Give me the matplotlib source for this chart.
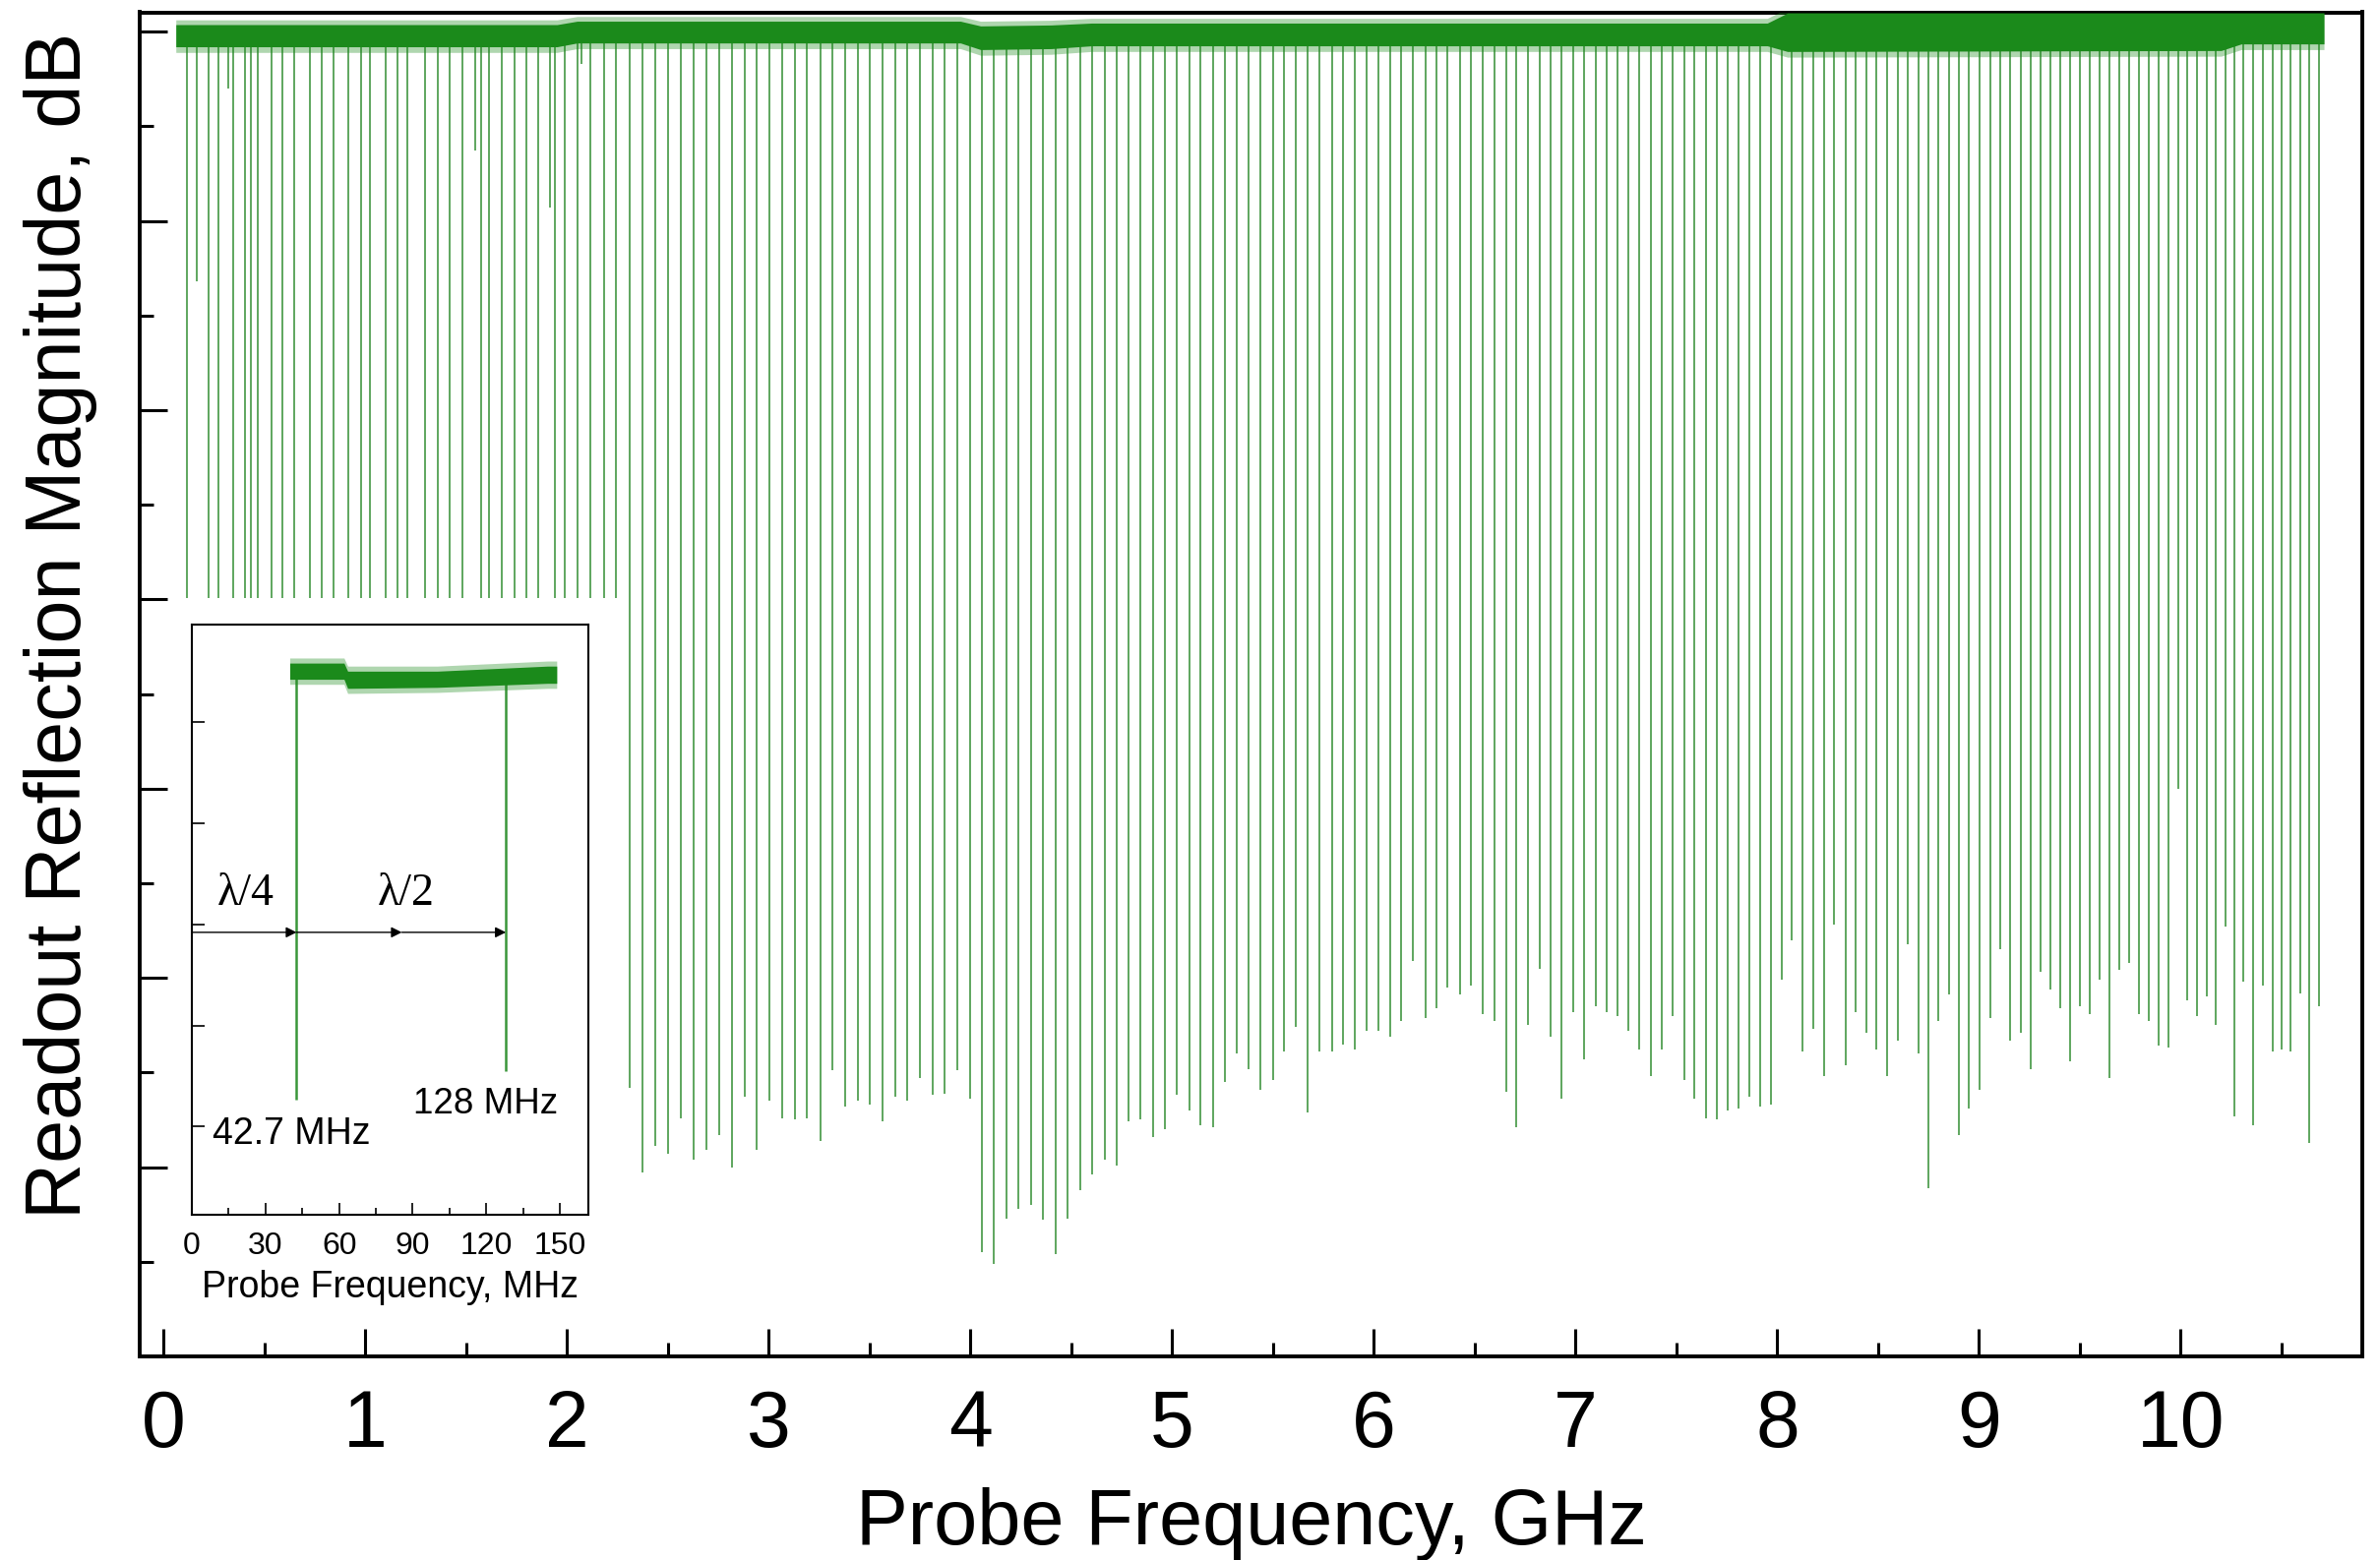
import numpy as np
import matplotlib
matplotlib.use("Agg")
import matplotlib.pyplot as plt
from matplotlib.ticker import MultipleLocator, FixedLocator
from matplotlib.patches import Rectangle

plt.rcParams['font.family'] = ['Liberation Sans', 'DejaVu Sans']

# resonance dips: frequency (GHz) and depth of the dip (dB)
dip_freq = [
    0.117, 0.166, 0.221, 0.272, 0.320, 0.343, 0.402, 0.434, 0.467, 0.535,
    0.589, 0.645, 0.725, 0.784, 0.841, 0.917, 0.979, 1.020, 1.101, 1.158,
    1.207, 1.296, 1.361, 1.418, 1.483, 1.545, 1.575, 1.613, 1.678, 1.738,
    1.800, 1.857, 1.917, 1.940, 1.987, 2.052, 2.070, 2.117, 2.182, 2.242,
    2.312, 2.374, 2.437, 2.501, 2.564, 2.628, 2.689, 2.753, 2.816, 2.880,
    2.941, 3.003, 3.068, 3.128, 3.190, 3.255, 3.316, 3.379, 3.442, 3.502,
    3.564, 3.626, 3.688, 3.750, 3.811, 3.873, 3.935, 3.997, 4.057, 4.117,
    4.179, 4.239, 4.299, 4.361, 4.423, 4.483, 4.543, 4.605, 4.665, 4.727,
    4.784, 4.844, 4.906, 4.962, 5.023, 5.084, 5.141, 5.202, 5.260, 5.320,
    5.379, 5.437, 5.499, 5.556, 5.613, 5.673, 5.730, 5.792, 5.849, 5.906,
    5.962, 6.020, 6.081, 6.133, 6.193, 6.255, 6.309, 6.366, 6.426, 6.483,
    6.540, 6.597, 6.654, 6.706, 6.764, 6.820, 6.876, 6.930, 6.987, 7.044,
    7.098, 7.155, 7.207, 7.263, 7.317, 7.372, 7.428, 7.483, 7.537, 7.590,
    7.645, 7.699, 7.753, 7.808, 7.860, 7.914, 7.966, 8.020, 8.073, 8.125,
    8.179, 8.231, 8.283, 8.337, 8.390, 8.442, 8.491, 8.545, 8.597, 8.645,
    8.698, 8.748, 8.800, 8.849, 8.901, 8.951, 9.003, 9.055, 9.104, 9.154,
    9.206, 9.255, 9.304, 9.353, 9.402, 9.450, 9.499, 9.548, 9.597, 9.645,
    9.694, 9.743, 9.792, 9.840, 9.889, 9.938, 9.987, 10.032, 10.081, 10.130,
    10.174, 10.223, 10.268, 10.312, 10.361, 10.406, 10.454, 10.499, 10.545, 10.591,
    10.637, 10.683,
]
dip_depth = [
    -58.0, -13.2, -58.0, -58.0, -3.0, -58.0, -58.0, -58.0, -58.0, -58.0,
    -58.0, -58.0, -58.0, -58.0, -58.0, -58.0, -58.0, -58.0, -58.0, -58.0,
    -58.0, -58.0, -58.0, -58.0, -58.0, -6.3, -58.0, -58.0, -58.0, -58.0,
    -58.0, -58.0, -9.3, -58.0, -58.0, -58.0, -1.7, -58.0, -58.0, -58.0,
    -55.8, -60.3, -58.9, -59.3, -57.4, -59.6, -59.1, -58.3, -60.0, -56.3,
    -59.1, -56.5, -57.4, -57.5, -57.4, -58.6, -54.9, -56.8, -56.5, -56.7,
    -57.6, -56.3, -56.5, -55.3, -56.2, -56.1, -54.9, -56.4, -64.5, -65.1,
    -62.7, -62.2, -62.0, -62.8, -64.6, -62.7, -61.2, -60.4, -59.6, -59.9,
    -57.6, -57.5, -58.4, -58.0, -56.2, -57.0, -57.8, -57.9, -55.5, -54.0,
    -54.8, -55.9, -55.4, -53.9, -52.6, -57.1, -53.9, -53.9, -53.5, -53.8,
    -52.8, -52.8, -53.1, -52.3, -49.1, -52.1, -51.6, -50.5, -50.9, -50.4,
    -51.9, -52.3, -56.0, -57.9, -52.5, -49.5, -53.1, -56.4, -51.8, -54.3,
    -51.5, -51.8, -52.0, -52.8, -53.8, -55.2, -53.8, -52.0, -55.4, -56.4,
    -57.4, -57.5, -57.0, -56.9, -56.3, -56.8, -56.7, -50.1, -48.0, -53.9,
    -52.7, -55.2, -47.2, -54.6, -51.8, -52.9, -53.8, -55.2, -53.3, -48.2,
    -54.0, -61.1, -52.3, -50.9, -58.3, -56.9, -55.9, -52.1, -48.5, -53.3,
    -52.9, -54.8, -49.7, -50.6, -51.6, -54.4, -51.5, -51.9, -50.1, -55.3,
    -49.6, -49.2, -51.9, -52.3, -53.6, -53.7, -40.0, -51.2, -52.0, -51.0,
    -52.5, -47.3, -57.3, -50.2, -57.8, -50.4, -53.9, -53.8, -53.9, -50.8,
    -58.7, -51.5,
]

# off-resonance level (noisy band): frequency, upper and lower edge in dB
band_freq = [0.06, 1.95, 2.05, 3.95, 4.05, 4.4, 4.6, 7.95, 8.05, 10.2, 10.3, 10.71]
band_top = [0.37, 0.37, 0.55, 0.55, 0.3, 0.35, 0.45, 0.45, 0.98, 0.98, 0.98, 0.98]
band_bot = [-0.8, -0.8, -0.6, -0.6, -0.95, -0.9, -0.75, -0.75, -1.05, -1.0, -0.65, -0.65]

# inset (MHz scale)
inset_band_freq = [39.9, 62.0, 63.5, 100.0, 145.0, 148.7]
inset_band_top = [-4.2, -4.2, -5.0, -5.0, -4.5, -4.5]
inset_band_bot = [-5.8, -5.8, -6.7, -6.6, -6.2, -6.2]
inset_dip_freq = [42.7, 128.0]
inset_dip_depth = [-47.3, -44.5]
arrow_marks = [0.0, 42.7, 85.6, 128.0]

W, H = 2419, 1586
fig = plt.figure(figsize=(W / 100, H / 100), dpi=100)

# ---- main axes
ax = fig.add_axes([142 / W, 1 - 1379 / H, (2401 - 142) / W, (1379 - 12.5) / H])
ax.vlines(dip_freq, dip_depth, -0.5, color='#5ea65e', lw=1.4, zorder=2)
# fuzzy edge of the noisy band, then its core
ax.fill_between(band_freq, np.array(band_bot) - 0.3, np.array(band_top) + 0.25,
                color='#1b8a1b', alpha=0.35, lw=0, zorder=3)
ax.fill_between(band_freq, band_bot, band_top, color='#1b8a1b', lw=0, zorder=3)

ax.set_xlim(-0.119, 10.90)
ax.set_ylim(-70, 1.02)
ax.xaxis.set_major_locator(MultipleLocator(1))
ax.xaxis.set_minor_locator(MultipleLocator(0.5))
ax.yaxis.set_major_locator(MultipleLocator(10))
ax.yaxis.set_minor_locator(MultipleLocator(5))
ax.tick_params(axis='both', which='major', direction='in', length=20, width=2.2,
               labelsize=58, pad=24)
ax.tick_params(axis='both', which='minor', direction='in', length=10, width=2.2)
ax.tick_params(axis='y', labelleft=False)
for s in ax.spines.values():
    s.set_linewidth(2.8)

ax.set_xlabel('Probe Frequency, GHz', fontsize=57)
ax.xaxis.set_label_coords(0.5, -0.097)
ax.set_ylabel('Readout Reflection Magnitude, dB', fontsize=57)
ax.yaxis.set_label_coords(-0.019, 0.544)

# white area behind the inset
fig.add_artist(Rectangle((174 / W, 1 - 1335 / H), (635 - 174) / W, (1335 - 608) / H,
                         transform=fig.transFigure, facecolor='white',
                         edgecolor='none', zorder=1))

# ---- inset
axin = fig.add_axes([195 / W, 1 - 1235 / H, (598 - 195) / W, 600 / H])
axin.set_zorder(2)
axin.fill_between(inset_band_freq, np.array(inset_band_bot) - 0.5,
                  np.array(inset_band_top) + 0.5, color='#1b8a1b', alpha=0.35,
                  lw=0, zorder=3)
axin.fill_between(inset_band_freq, inset_band_bot, inset_band_top, color='#1b8a1b', lw=0, zorder=3)
axin.vlines(inset_dip_freq, inset_dip_depth, -5.0, color='#3a963a', lw=1.8, zorder=2)

arrow_y = -30.8
for a, b in zip(arrow_marks[:-1], arrow_marks[1:]):
    axin.annotate('', xy=(b, arrow_y), xytext=(a, arrow_y),
                  arrowprops=dict(arrowstyle='-|>', color='black', lw=1.0,
                                  mutation_scale=16, shrinkA=0, shrinkB=0))

serif = ['Liberation Serif', 'DejaVu Serif']
axin.text(22.0, -27.0, 'λ/4', fontsize=33, family=serif, ha='center', va='center')
axin.text(87.3, -27.0, 'λ/2', fontsize=33, family=serif, ha='center', va='center')
axin.text(40.5, -50.7, '42.7 MHz', fontsize=27, ha='center', va='center')
axin.text(119.6, -47.8, '128 MHz', fontsize=26.5, ha='center', va='center')

axin.set_xlim(0, 161.6)
axin.set_ylim(-58.7, -0.4)
axin.xaxis.set_major_locator(MultipleLocator(30))
axin.xaxis.set_minor_locator(MultipleLocator(15))
axin.yaxis.set_major_locator(FixedLocator([-10, -20, -30, -40, -50]))
axin.tick_params(axis='both', which='major', direction='in', length=9, width=1.2,
                 labelsize=23, pad=12)
axin.tick_params(axis='both', which='minor', direction='in', length=5, width=1.2)
axin.tick_params(axis='y', labelleft=False)
for s in axin.spines.values():
    s.set_linewidth(1.5)
axin.set_xlabel('Probe Frequency, MHz', fontsize=27)
axin.xaxis.set_label_coords(0.5, -0.093)

fig.savefig('out.png', dpi=100)
